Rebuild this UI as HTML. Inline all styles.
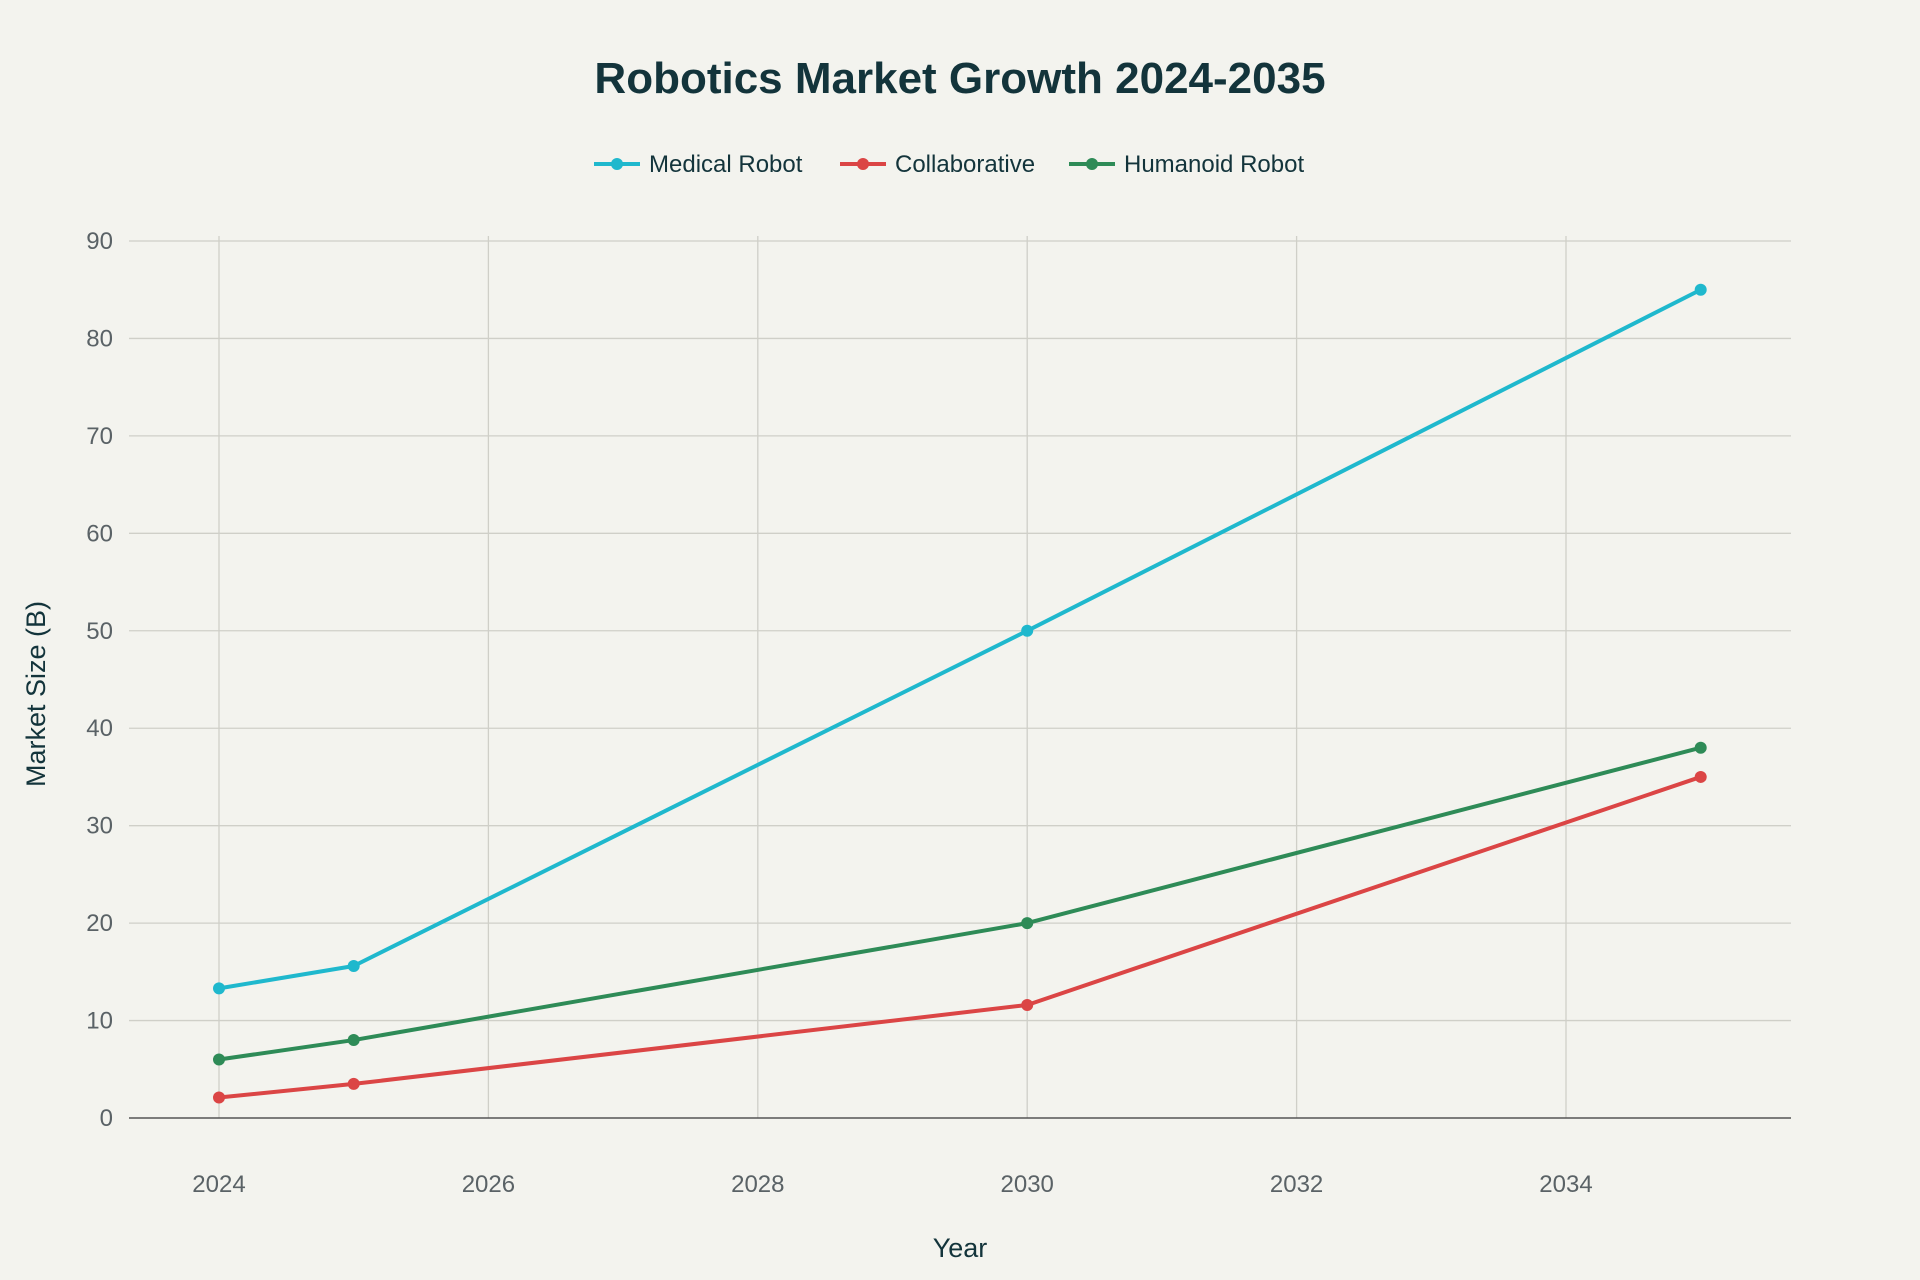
<!DOCTYPE html>
<html><head><meta charset="utf-8"><style>
html,body{margin:0;padding:0;background:#f3f3ee;}
svg{display:block;font-family:"Liberation Sans",sans-serif;}
</style></head><body>
<svg id="chart" width="1920" height="1280" viewBox="0 0 1920 1280">
<rect width="1920" height="1280" fill="#f3f3ee"/>
<text x="960" y="93" text-anchor="middle" font-size="44" font-weight="bold" fill="#13343B">Robotics Market Growth 2024-2035</text>
<g id="grid"></g>
<g id="axes"></g>
<g id="series"></g>
<g id="legend"></g>
<text x="960" y="1257" text-anchor="middle" font-size="27" fill="#13343B">Year</text>
<text x="0" y="0" transform="translate(45,694) rotate(-90)" text-anchor="middle" font-size="27" fill="#13343B">Market Size (B)</text>
</svg>
<script>
const years = [2024, 2025, 2030, 2035];
const seriesNames = ["Medical Robot", "Collaborative", "Humanoid Robot"];
const medical = [13.3, 15.6, 50, 85];
const collaborative = [2.1, 3.5, 11.6, 35];
const humanoid = [6, 8, 20, 38];
const xTicks = [2024, 2026, 2028, 2030, 2032, 2034];
const yTicks = [0, 10, 20, 30, 40, 50, 60, 70, 80, 90];

const NS = "http://www.w3.org/2000/svg";
const colors = ["#1FB8CD", "#DB4545", "#2E8B57"];
const X0 = 129, X1 = 1791, YT = 236, YB = 1118;
function xs(v){ return 219 + (v - 2024) * (1566 - 219) / 10; }
function ys(v){ return 1118 - v * (1118 - 241) / 90; }
function mk(tag, attrs, parent){ const e = document.createElementNS(NS, tag); for (const k in attrs) e.setAttribute(k, attrs[k]); parent.appendChild(e); return e; }

const grid = document.getElementById("grid"), axes = document.getElementById("axes");
yTicks.forEach(t => {
  const y = ys(t);
  if (t !== 0) {
    const l = mk("line", {x1: X0, x2: X1, y1: y, y2: y, stroke: "#cfcfc8", "stroke-width": 1.3}, grid);
    
    
  }
  const tx = mk("text", {x: 113, y: y + 8, "text-anchor": "end", "font-size": 24, fill: "#5a6266"}, axes);
  tx.textContent = t;
  
  
});
xTicks.forEach(t => {
  const x = xs(t);
  const l = mk("line", {x1: x, x2: x, y1: YT, y2: YB, stroke: "#cfcfc8", "stroke-width": 1.3}, grid);
  
  
  const tx = mk("text", {x: x, y: 1192, "text-anchor": "middle", "font-size": 24, fill: "#5a6266"}, axes);
  tx.textContent = t;
  
  
});
const zl = mk("line", {x1: X0, x2: X1, y1: ys(0), y2: ys(0), stroke: "#555", "stroke-width": 1.5}, axes);



const sg = document.getElementById("series");
[medical, collaborative, humanoid].forEach((vals, i) => {
  const pts = vals.map((v, j) => xs(years[j]) + "," + ys(v)).join(" ");
  const pl = mk("polyline", {points: pts, fill: "none", stroke: colors[i], "stroke-width": 4, "stroke-linejoin": "round"}, sg);
  
  
  vals.forEach((v, j) => {
    const c = mk("circle", {cx: xs(years[j]), cy: ys(v), r: 6, fill: colors[i]}, sg);
    
    
  });
});

const lg = document.getElementById("legend");
const lx = [594, 840, 1069];
seriesNames.forEach((n, i) => {
  const g = mk("g", {}, lg);
  
  
  mk("line", {x1: lx[i], x2: lx[i] + 46, y1: 164, y2: 164, stroke: colors[i], "stroke-width": 4}, g);
  mk("circle", {cx: lx[i] + 23, cy: 164, r: 6, fill: colors[i]}, g);
  const t = mk("text", {x: lx[i] + 55, y: 172, "font-size": 24, fill: "#13343B"}, g);
  t.textContent = n;
});
</script>
</body></html>
